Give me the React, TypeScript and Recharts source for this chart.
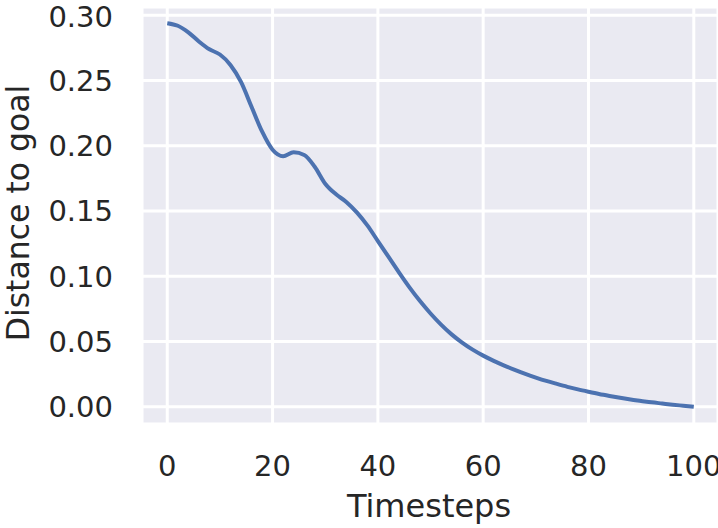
import { LineChart, Line, XAxis, YAxis, CartesianGrid } from "recharts";

const timesteps = [
  0, 2, 4, 6, 8, 10, 12, 14, 16, 18, 20, 22, 24, 26, 28, 30, 32, 34, 36, 38, 40,
  42, 44, 46, 48, 50, 52, 54, 56, 58, 60, 62, 64, 66, 68, 70, 72, 74, 76, 78, 80,
  82, 84, 86, 88, 90, 92, 94, 96, 98, 100,
];

const distance = [
  0.294, 0.292, 0.287, 0.28, 0.274, 0.27, 0.262, 0.249, 0.23, 0.211, 0.197,
  0.192, 0.195, 0.193, 0.184, 0.171, 0.163, 0.157, 0.149, 0.139, 0.127,
  0.115, 0.103, 0.0915, 0.081, 0.0715, 0.063, 0.0555, 0.0492, 0.0438, 0.0392,
  0.0352, 0.0316, 0.0283, 0.0252, 0.0224, 0.0198, 0.0175, 0.0153, 0.0133, 0.0115,
  0.0098, 0.0083, 0.0069, 0.0056, 0.0045, 0.0034, 0.0025, 0.0016, 0.0008, 0.0,
];

const xTicks = [0, 20, 40, 60, 80, 100];
const yTicks = [0, 0.05, 0.1, 0.15, 0.2, 0.25, 0.3];

const data = timesteps.map((t, i) => ({ t, d: distance[i] }));

const FONT = "'DejaVu Sans', sans-serif";
const TEXT = "#262626";

export default function App() {
  return (
    <div style={{ position: "absolute", left: 0, top: 0, fontFamily: FONT }}>
      <LineChart
        width={718}
        height={528}
        data={data}
        margin={{ top: 7, right: 0, bottom: 0, left: 0 }}
      >
        <CartesianGrid fill="#EAEAF2" stroke="#ffffff" strokeWidth={3} />
        <XAxis
          dataKey="t"
          type="number"
          domain={[-4.8, 104.6]}
          ticks={xTicks}
          allowDataOverflow
          height={104}
          axisLine={false}
          tickLine={false}
          tickSize={0}
          tickMargin={31}
          tick={{ fill: TEXT, fontSize: 29, fontFamily: FONT }}
          label={{
            content: () => (
              <text x={429} y={517} textAnchor="middle" fill={TEXT} fontSize={32} fontFamily={FONT}>
                Timesteps
              </text>
            ),
          }}
        />
        <YAxis
          type="number"
          domain={[-0.0132, 0.3064]}
          ticks={yTicks}
          allowDataOverflow
          width={142}
          axisLine={false}
          tickLine={false}
          tickSize={0}
          tickMargin={29}
          tickFormatter={(v: number) => v.toFixed(2)}
          tick={{ fill: TEXT, fontSize: 29, fontFamily: FONT }}
          label={{
            content: () => (
              <text
                transform="translate(29,213) rotate(-90)"
                textAnchor="middle"
                fill={TEXT}
                fontSize={31.5}
                fontFamily={FONT}
              >
                Distance to goal
              </text>
            ),
          }}
        />
        <Line
          type="monotone"
          dataKey="d"
          stroke="#4C72B0"
          strokeWidth={4}
          dot={false}
          isAnimationActive={false}
        />
      </LineChart>
    </div>
  );
}
